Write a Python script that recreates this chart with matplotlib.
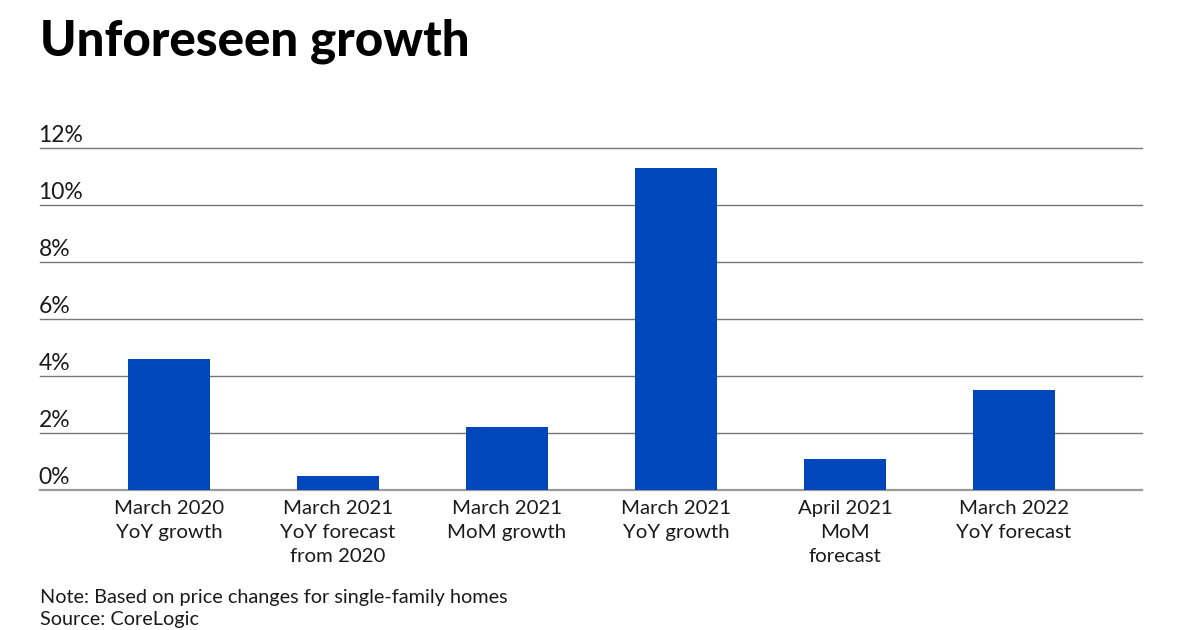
import matplotlib.pyplot as plt
from matplotlib import transforms

plt.rcParams['font.family'] = ['Lato', 'DejaVu Sans']

# data
categories = [
    "March 2020\nYoY growth",
    "March 2021\nYoY forecast\nfrom 2020",
    "March 2021\nMoM growth",
    "March 2021\nYoY growth",
    "April 2021\nMoM\nforecast",
    "March 2022\nYoY forecast",
]
values = [4.6, 0.5, 2.2, 11.3, 1.1, 3.5]
yticks = [0, 2, 4, 6, 8, 10, 12]
ytick_labels = ["0%", "2%", "4%", "6%", "8%", "10%", "12%"]

bar_color = "#0047bb"
text_color = "#1a1a1a"

fig = plt.figure(figsize=(12, 6.3), dpi=100)
ax = fig.add_axes([0.0333, 0.2222, 0.9183, 0.5429])

x = list(range(len(categories)))
ax.bar(x, values, width=0.49, color=bar_color, zorder=3)

# gridlines
for t in yticks:
    c = "#9a9a9a" if t == 0 else "#777777"
    lw = 1.6 if t == 0 else 1.0
    ax.axhline(t, color=c, lw=lw, zorder=1, clip_on=False)

# y labels sit above the gridlines, left aligned
trans = transforms.blended_transform_factory(ax.transAxes, ax.transData)
for t, lab in zip(yticks, ytick_labels):
    ax.annotate(lab, xy=(0, t), xycoords=trans, xytext=(-1, 4),
                textcoords="offset points", ha="left", va="baseline",
                fontsize=16.5, color=text_color)

ax.set_xlim(-0.763, 5.757)
ax.set_ylim(0, 12)
ax.set_yticks([])
ax.set_xticks(x)
ax.set_xticklabels(categories, fontsize=14.7, color=text_color)
for lab in ax.get_xticklabels():
    lab.set_linespacing(1.5)
ax.tick_params(axis="x", length=0, pad=7.5)
for s in ax.spines.values():
    s.set_visible(False)

fig.text(40 / 1200, 1 - 55 / 630, "Unforeseen growth", fontsize=35.5,
         fontweight="black", color="#000000", ha="left", va="baseline")

fig.text(40 / 1200, 1 - 603 / 630, "Note: Based on price changes for single-family homes",
         fontsize=14.3, color=text_color, ha="left", va="baseline")
fig.text(40 / 1200, 1 - 625 / 630, "Source: CoreLogic",
         fontsize=14.3, color=text_color, ha="left", va="baseline")

fig.savefig("out.png", dpi=100)
